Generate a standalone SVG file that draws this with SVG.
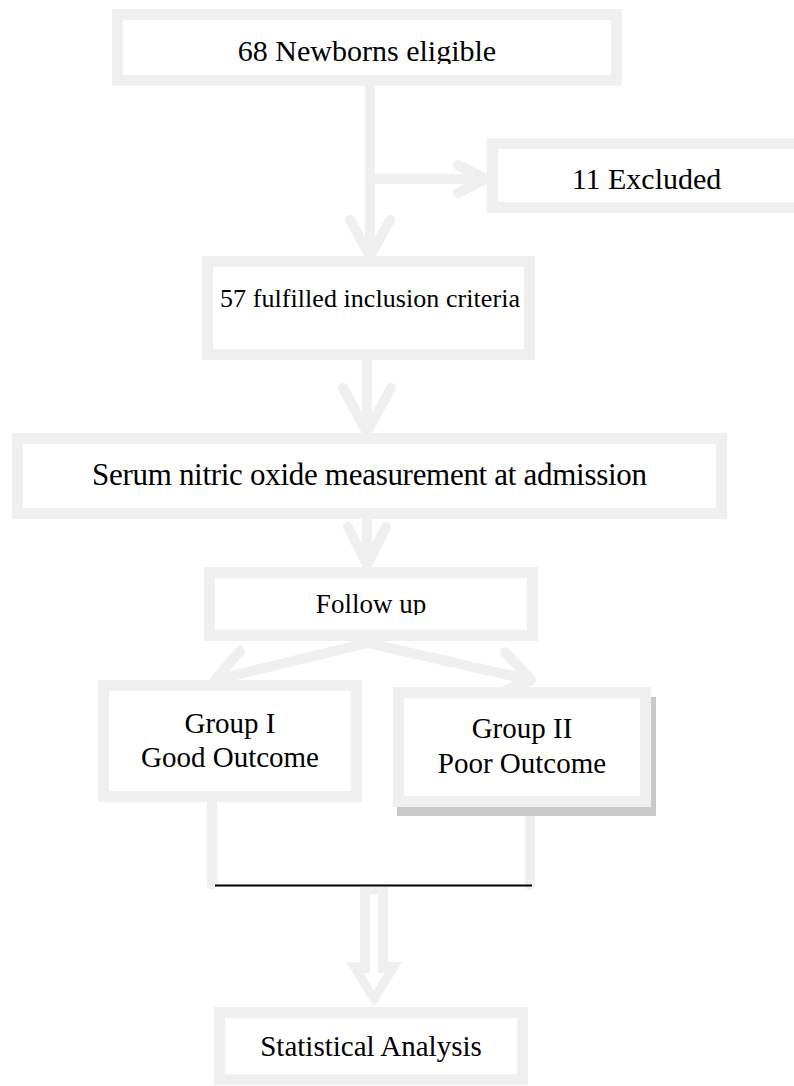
<svg xmlns="http://www.w3.org/2000/svg" width="794" height="1086" viewBox="0 0 794 1086">
<style>
.box{fill:#ffffff;stroke:#efefef;stroke-width:11}
.con{fill:none;stroke:#efefef;stroke-width:10;stroke-linecap:round;stroke-linejoin:round}
.t{font-family:"Liberation Serif","Times New Roman",serif;fill:#000;text-anchor:middle}
</style>
<defs>
<clipPath id="c1"><rect x="0" y="0" width="794" height="64"/></clipPath>
<clipPath id="c2"><rect x="0" y="560" width="794" height="55"/></clipPath>
</defs>
<rect width="794" height="1086" fill="#ffffff"/>
<g id="connectors">
<path class="con" d="M370 86 V254 M350 220 L370 256 L390 220"/>
<path class="con" d="M370 179 H484 M458 165 L486 179 L458 193"/>
<path class="con" d="M367 360 V431 M343 388 L367 432 L391 388"/>
<path class="con" d="M367 519 V564 M348 527 L367 565 L386 527"/>
<path class="con" d="M367 643 L215 680 M240 651 L215 680 L250 694"/>
<path class="con" d="M367 643 L531 680 M505 652 L531 680 L496 694"/>
<path class="con" d="M212 800 V885 M530 800 V885"/>
<line x1="215" y1="885.5" x2="532" y2="885.5" stroke="#000" stroke-width="2"/>
<polygon points="360,887 388,887 388,962 402,962 374,1007 346,962 360,962" fill="#efefef"/>
<polygon points="370,894 378,894 378,973 384,973 374,991 364,973 370,973" fill="#ffffff"/>
</g>
<g id="n1"><rect class="box" x="117.5" y="14.5" width="499" height="66"/><text class="t" x="367" y="61" font-size="30" clip-path="url(#c1)">68 Newborns eligible</text></g>
<g id="n2"><rect class="box" x="492.5" y="143.5" width="309" height="64"/><text class="t" x="646.5" y="189" font-size="30">11 Excluded</text></g>
<g id="n3"><rect class="box" x="207.5" y="261.5" width="322" height="93"/><text class="t" x="370" y="306.5" font-size="26" textLength="300">57 fulfilled inclusion criteria</text></g>
<g id="n4"><rect class="box" x="17.5" y="438.5" width="704" height="75"/><text class="t" x="369.5" y="485" font-size="31" textLength="555">Serum nitric oxide measurement at admission</text></g>
<g id="n5"><rect class="box" x="209.5" y="572.5" width="323" height="63"/><text class="t" x="371" y="613" font-size="27" clip-path="url(#c2)">Follow up</text></g>
<g id="n6"><rect class="box" x="103.5" y="685.5" width="253" height="111"/><text class="t" x="230" y="733" font-size="29">Group I</text><text class="t" x="230" y="767" font-size="29">Good Outcome</text></g>
<g id="n7"><rect x="397" y="697" width="259" height="119" fill="#c9c9c9"/><rect class="box" x="398.5" y="692.5" width="247" height="109"/><text class="t" x="522" y="738" font-size="29">Group II</text><text class="t" x="522" y="773" font-size="29">Poor Outcome</text></g>
<g id="n8"><rect class="box" x="219.5" y="1012.5" width="303" height="67"/><text class="t" x="371" y="1056" font-size="29">Statistical Analysis</text></g>
</svg>
